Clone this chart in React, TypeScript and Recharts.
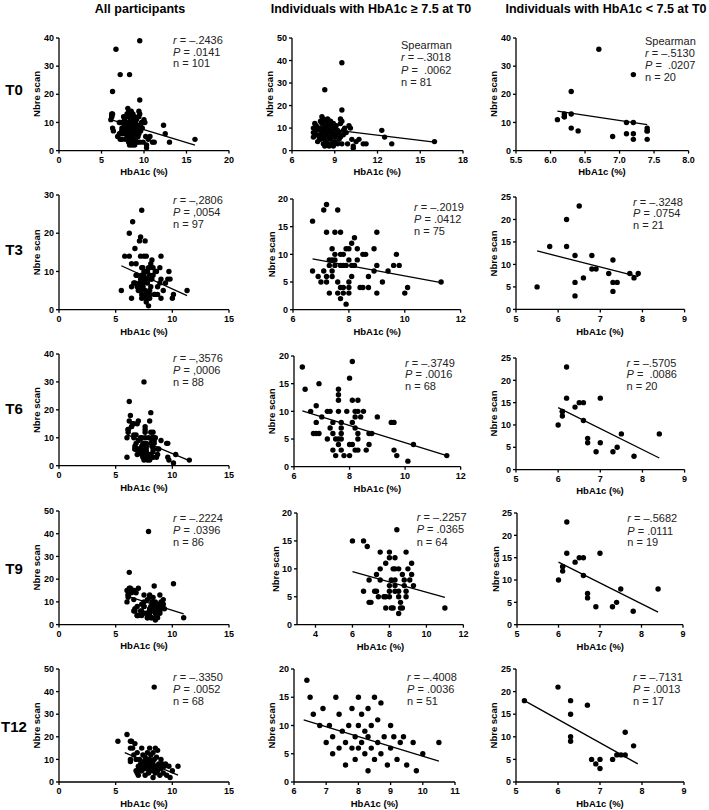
import React from 'react';
import { ScatterChart, Scatter, XAxis, YAxis, ReferenceLine } from 'recharts';

// ---------------- DATA (HbA1c %, Nbre scan) ----------------
const t0Hi = [[7.5,10],[7.5,8],[7.5,6],[7.6,12],[7.6,7],[7.7,11],[7.7,9],[7.8,7],[7.8,4],[7.9,10],[7.9,6],[8.0,13],[8.0,9],[8.0,7],[8.0,5],[8.1,15],[8.1,12],[8.1,8],[8.2,14],[8.2,10],[8.2,6],[8.2,3],[8.3,27],[8.3,13],[8.3,9],[8.3,5],[8.3,2],[8.4,11],[8.4,7],[8.4,4],[8.5,14],[8.5,8],[8.5,3],[8.6,12],[8.6,10],[8.6,6],[8.6,2],[8.7,13],[8.7,9],[8.7,5],[8.8,11],[8.8,7],[8.8,3],[8.9,12],[8.9,8],[8.9,2],[9.0,10],[9.0,6],[9.0,4],[9.1,11],[9.1,7],[9.2,9],[9.2,3],[9.3,8],[9.3,5],[9.4,14],[9.4,12],[9.4,6],[9.5,39],[9.5,18],[9.5,13],[9.5,3],[9.6,9],[9.6,7],[9.7,10],[9.8,8],[9.9,3],[10.0,11],[10.1,10],[10.2,5],[10.3,1],[10.3,2],[10.5,4],[10.7,5],[11.0,3],[11.2,3],[12.3,9],[12.5,6],[13.0,3],[16.0,4]];
const t0Lo = [[6.1,11],[6.2,13],[6.2,12],[6.3,21],[6.3,13],[6.3,8],[6.4,7],[6.7,36],[6.9,5],[7.1,10],[7.1,6],[7.2,27],[7.2,10],[7.2,6],[7.2,4],[7.4,8],[7.4,7],[7.4,4],[6.2,12],[7.4,7]];
const t0Extra: number[][] = [];

const t3Hi = [[6.7,16],[6.7,7],[6.9,6],[7.0,5],[7.1,18],[7.1,7],[7.2,19],[7.2,14],[7.2,6],[7.2,5],[7.3,9],[7.3,8],[7.3,3],[7.4,11],[7.4,9],[7.4,7],[7.4,6],[7.5,10],[7.5,9],[7.5,14],[7.5,8],[7.6,18],[7.6,5],[7.6,3],[7.7,14],[7.7,10],[7.7,8],[7.7,4],[7.7,2],[7.8,10],[7.8,8],[7.8,4],[7.8,3],[7.9,8],[7.9,11],[7.9,1],[8.0,11],[8.0,9],[8.0,5],[8.0,4],[8.0,3],[8.1,12],[8.1,8],[8.1,6],[8.2,13],[8.2,8],[8.3,11],[8.3,9],[8.4,4],[8.5,10],[8.5,4],[8.6,10],[8.7,6],[8.7,4],[8.9,11],[8.9,7],[9.0,14],[9.0,8],[9.0,3],[9.2,5],[9.4,7],[9.6,8],[9.7,10],[9.8,8],[10.0,3],[10.1,4],[11.3,5]];
const t3Lo = [[5.5,5],[5.8,14],[6.2,20],[6.2,14],[6.4,12],[6.4,6],[6.4,3],[6.5,23],[6.6,7],[6.8,12],[6.8,9],[6.9,9],[7.2,8],[7.3,11],[7.3,6],[7.3,4],[7.4,6],[7.7,8],[7.8,7],[7.9,8]];
const t3Extra = [[7.3,26]];

const t6Hi = [[6.3,18],[6.4,14],[6.6,10],[6.7,6],[6.8,11],[6.8,8],[6.8,6],[6.9,6],[6.9,15],[7.0,9],[7.2,5],[7.2,10],[7.3,10],[7.3,7],[7.4,8],[7.4,6],[7.4,3],[7.5,2],[7.5,5],[7.6,14],[7.6,13],[7.6,12],[7.6,10],[7.6,5],[7.7,5],[7.6,4],[7.7,8],[7.7,7],[7.7,6],[7.7,3],[7.8,2],[7.9,10],[8.0,16],[8.0,4],[8.0,2],[8.1,19],[8.1,12],[8.1,8],[8.1,4],[8.2,10],[8.2,9],[8.2,7],[8.2,3],[8.3,3],[8.3,12],[8.3,10],[8.3,6],[8.3,5],[8.4,9],[8.5,10],[8.6,3],[8.7,4],[8.7,6],[8.8,6],[9.0,9],[9.5,8],[9.6,8],[9.6,3],[9.7,2],[10.1,1],[10.3,4],[11.5,2]];
const t6Lo = [[6.0,10],[6.1,13],[6.1,12],[6.2,23],[6.2,16],[6.4,14],[6.5,15],[6.6,15],[6.6,11],[6.7,7],[6.7,6],[6.9,4],[7.0,16],[7.0,6],[7.3,4],[7.4,5],[7.5,8],[7.8,3],[8.4,8],[6.1,13]];
const t6Extra = [[7.5,30],[6.0,3]];

const t9Hi = [[6.0,15],[6.6,15],[6.8,14],[6.6,6],[6.9,8],[6.9,4],[7.0,4],[7.3,6],[7.2,6],[7.3,9],[7.4,5],[7.5,13],[7.5,10],[7.5,8],[7.7,5],[7.8,5],[7.8,11],[7.8,3],[8.0,13],[8.0,12],[8.0,7],[8.0,6],[8.0,5],[8.1,8],[8.1,3],[8.2,3],[8.3,12],[8.2,10],[8.3,10],[8.5,10],[8.3,8],[8.3,7],[8.3,6],[8.5,6],[8.4,17],[8.5,5],[8.6,4],[8.6,3],[8.7,3],[8.5,2],[8.8,7],[8.9,6],[8.9,13],[8.9,5],[9.0,10],[9.1,8],[9.2,11],[9.2,9],[9.3,7],[8.7,9],[8.8,8],[11.0,3]];
const t9Lo = [[6.0,10],[6.1,13],[6.1,12],[6.2,23],[6.2,16],[6.4,14],[6.5,15],[6.6,15],[6.6,11],[6.7,7],[6.7,6],[6.9,4],[7.0,16],[7.3,4],[7.4,5],[7.5,8],[7.8,3],[8.4,8],[6.1,13]];
const t9Extra = [[7.9,41],[10.1,18],[6.3,16]];

const t12Hi = [[6.4,18],[6.5,15],[6.6,12],[6.8,10],[6.9,13],[7.0,7],[7.1,10],[7.2,8],[7.2,5],[7.3,15],[7.4,12],[7.4,6],[7.5,9],[7.6,7],[7.6,3],[7.7,10],[7.8,13],[7.8,6],[7.9,8],[7.9,4],[8.0,15],[8.0,10],[8.0,6],[8.1,12],[8.1,7],[8.2,5],[8.2,9],[8.3,13],[8.3,8],[8.3,2],[8.4,10],[8.4,6],[8.5,15],[8.5,4],[8.6,7],[8.6,11],[8.7,14],[8.7,5],[8.8,8],[8.9,3],[9.0,10],[9.0,6],[9.1,8],[9.2,4],[9.3,7],[9.4,8],[9.5,3],[9.7,7],[9.8,2],[10.0,5],[10.5,7]];
const t12Lo = [[5.2,18],[6.0,21],[6.3,18],[6.3,15],[6.3,10],[6.3,9],[6.7,17],[6.8,5],[6.9,4],[7.0,3],[7.3,5],[7.4,6],[7.5,6],[7.6,6],[7.6,11],[7.8,8],[7.0,5]];
const t12Extra = [[8.4,42]];

// regression line end points
const fitT0All = [[6.1,11.0],[16.0,1.9]];
const fitT0Hi = [[7.5,10.3],[16.0,3.8]];
const fitT0Lo = [[6.1,14.0],[7.4,9.2]];
const fitT3All = [[5.5,11.5],[11.3,3.7]];
const fitT3Hi = [[6.7,9.2],[11.3,4.9]];
const fitT3Lo = [[5.5,13.0],[7.9,7.3]];
const fitT6All = [[6.0,11.1],[11.5,1.8]];
const fitT6Hi = [[6.3,10.1],[11.5,2.0]];
const fitT6Lo = [[6.0,13.9],[8.4,2.6]];
const fitT9All = [[6.0,12.5],[11.0,4.7]];
const fitT9Hi = [[6.0,9.5],[11.0,4.9]];
const fitT9Lo = [[6.0,14.0],[8.4,2.8]];
const fitT12All = [[5.8,13.0],[10.5,3.0]];
const fitT12Hi = [[6.3,11.0],[10.5,3.7]];
const fitT12Lo = [[5.2,18.0],[7.9,4.0]];

// ticks
const xT20 = [0,5,10,15,20];
const xT15 = [0,5,10,15];
const xT18 = [6,9,12,15,18];
const xT8h = [5.5,6.0,6.5,7.0,7.5,8.0];
const xT12 = [6,8,10,12];
const xT12b = [4,6,8,10,12];
const xT11 = [6,7,8,9,10,11];
const xT9 = [5,6,7,8,9];
const yT20 = [0,5,10,15,20];
const yT25 = [0,5,10,15,20,25];
const yT30 = [0,10,20,30];
const yT40 = [0,10,20,30,40];
const yT50 = [0,10,20,30,40,50];

// texts
const colTitles = ['All participants', 'Individuals with HbA1c \u2265 7.5 at T0', 'Individuals with HbA1c < 7.5 at T0'];
const rowLabels = ['T0', 'T3', 'T6', 'T9', 'T12'];
const xLabel = 'HbA1c (%)';
const yLabel = 'Nbre scan';
const stT0All = ['r = \u2013.2436', 'P = .0141', 'n = 101'];
const stT0Hi = ['Spearman', 'r = \u2013.3018', 'P =  .0062', 'n = 81'];
const stT0Lo = ['Spearman', 'r = \u2013.5130', 'P =  .0207', 'n = 20'];
const stT3All = ['r = \u2013,2806', 'P = ,0054', 'n = 97'];
const stT3Hi = ['r = \u2013.2019', 'P = .0412', 'n = 75'];
const stT3Lo = ['r = \u2013.3248', 'P = .0754', 'n = 21'];
const stT6All = ['r = \u2013,3576', 'P = ,0006', 'n = 88'];
const stT6Hi = ['r = \u2013.3749', 'P = .0016', 'n = 68'];
const stT6Lo = ['r = \u2013.5705', 'P =  .0086', 'n = 20'];
const stT9All = ['r = \u2013.2224', 'P = .0396', 'n = 86'];
const stT9Hi = ['r = \u2013.2257', 'P = .0365', 'n = 64'];
const stT9Lo = ['r = \u2013.5682', 'P = .0111', 'n = 19'];
const stT12All = ['r = \u2013.3350', 'P = .0052', 'n = 68'];
const stT12Hi = ['r = \u2013.4008', 'P = .0036', 'n = 51'];
const stT12Lo = ['r = \u2013.7131', 'P = .0013', 'n = 17'];

const toPts = (a: number[][]) => a.map(([x, y]) => ({ x, y }));

// ---------------- LAYOUT ----------------
const FONT = '"Liberation Sans", Arial, sans-serif';

type Cfg = {
  ax: number; top: number; right: number; bottom: number;
  xd: number[]; xt: number[]; yd: number[]; yt: number[];
  data: number[][]; fit: number[][];
  st: string[]; sx: number; sy: number[]; fmt1?: boolean;
};

const panels: Cfg[] = [
  { ax: 59, top: 37.7, right: 229, bottom: 150.3, xd: [0, 20], xt: xT20, yd: [0, 40], yt: yT40, data: [...t0Hi, ...t0Lo, ...t0Extra], fit: fitT0All, st: stT0All, sx: 173, sy: [40, 52, 63.5] },
  { ax: 291.7, top: 37.7, right: 462.7, bottom: 150.3, xd: [6, 18], xt: xT18, yd: [0, 50], yt: yT50, data: t0Hi, fit: fitT0Hi, st: stT0Hi, sx: 401, sy: [45, 57.5, 70, 82] },
  { ax: 515.7, top: 37.7, right: 688.3, bottom: 150.3, xd: [5.5, 8], xt: xT8h, yd: [0, 40], yt: yT40, data: t0Lo, fit: fitT0Lo, st: stT0Lo, sx: 645, sy: [41, 53, 65, 77.5], fmt1: true },
  { ax: 59, top: 195, right: 229, bottom: 309.7, xd: [0, 15], xt: xT15, yd: [0, 30], yt: yT30, data: [...t3Hi, ...t3Lo, ...t3Extra], fit: fitT3All, st: stT3All, sx: 173, sy: [200, 212, 224] },
  { ax: 293.3, top: 199, right: 461, bottom: 309.7, xd: [6, 12], xt: xT12, yd: [0, 20], yt: yT20, data: t3Hi, fit: fitT3Hi, st: stT3Hi, sx: 414, sy: [206.7, 219, 231] },
  { ax: 515.7, top: 197.3, right: 684.3, bottom: 309.7, xd: [5, 9], xt: xT9, yd: [0, 25], yt: yT25, data: t3Lo, fit: fitT3Lo, st: stT3Lo, sx: 633, sy: [201.7, 213.3, 225] },
  { ax: 59, top: 354.3, right: 229, bottom: 466, xd: [0, 15], xt: xT15, yd: [0, 40], yt: yT40, data: [...t6Hi, ...t6Lo, ...t6Extra], fit: fitT6All, st: stT6All, sx: 173, sy: [357.7, 370, 382.3] },
  { ax: 294, top: 356, right: 460.7, bottom: 466.7, xd: [6, 12], xt: xT12, yd: [0, 20], yt: yT20, data: t6Hi, fit: fitT6Hi, st: stT6Hi, sx: 405, sy: [362.7, 374.3, 385.7] },
  { ax: 515.7, top: 357.7, right: 684.3, bottom: 469.3, xd: [5, 9], xt: xT9, yd: [0, 25], yt: yT25, data: t6Lo, fit: fitT6Lo, st: stT6Lo, sx: 626.5, sy: [362.7, 374.3, 385.7] },
  { ax: 59, top: 510.7, right: 229, bottom: 624.3, xd: [0, 15], xt: xT15, yd: [0, 50], yt: yT50, data: [...t9Hi, ...t9Lo, ...t9Extra], fit: fitT9All, st: stT9All, sx: 173, sy: [518.3, 530, 542.3] },
  { ax: 297.3, top: 513.3, right: 463.7, bottom: 625, xd: [3, 12], xt: xT12b, yd: [0, 20], yt: yT20, data: t9Hi, fit: fitT9Hi, st: stT9Hi, sx: 416.7, sy: [516.7, 529.3, 541.7] },
  { ax: 517.3, top: 513.3, right: 683.3, bottom: 625, xd: [5, 9], xt: xT9, yd: [0, 25], yt: yT25, data: t9Lo, fit: fitT9Lo, st: stT9Lo, sx: 627.3, sy: [518.3, 530.7, 542.3] },
  { ax: 59, top: 669, right: 229, bottom: 782, xd: [0, 15], xt: xT15, yd: [0, 50], yt: yT50, data: [...t12Hi, ...t12Lo, ...t12Extra], fit: fitT12All, st: stT12All, sx: 173, sy: [677, 689, 701] },
  { ax: 294, top: 669, right: 455, bottom: 782, xd: [6, 11], xt: xT11, yd: [0, 20], yt: yT20, data: t12Hi, fit: fitT12Hi, st: stT12Hi, sx: 407, sy: [677, 689, 701] },
  { ax: 516, top: 669, right: 684, bottom: 782, xd: [5, 9], xt: xT9, yd: [0, 25], yt: yT25, data: t12Lo, fit: fitT12Lo, st: stT12Lo, sx: 633, sy: [677, 689, 701] },
];

const titleX = [140, 371, 606];
const rowY = [90, 250, 409, 569, 727];

const PAD_L = 40, PAD_T = 6, PAD_R = 12, PAD_B = 26;

const tickStyle = { fontSize: 9, fontWeight: 700, fill: '#000', fontFamily: FONT };

function Dot(props: any) {
  const { cx, cy } = props;
  if (cx == null || cy == null) return null;
  return <circle cx={cx} cy={cy} r={2.7} fill="#000" />;
}

function Panel({ c }: { c: Cfg }) {
  const plotW = c.right - c.ax;
  const plotH = c.bottom - c.top;
  return (
    <div style={{ position: 'absolute', left: c.ax - PAD_L, top: c.top - PAD_T }}>
      <ScatterChart
        width={plotW + PAD_L + PAD_R}
        height={plotH + PAD_T + PAD_B}
        margin={{ top: PAD_T, right: PAD_R, bottom: 0, left: 0 }}
      >
        <XAxis
          type="number" dataKey="x" domain={c.xd} ticks={c.xt} allowDataOverflow
          height={PAD_B} tickSize={3} tickMargin={3} interval={0}
          stroke="#000" strokeWidth={1.3} tick={tickStyle}
          tickFormatter={(v: number) => (c.fmt1 ? v.toFixed(1) : String(v))}
        />
        <YAxis
          type="number" dataKey="y" domain={c.yd} ticks={c.yt} allowDataOverflow
          width={PAD_L} tickSize={3} tickMargin={2} interval={0}
          stroke="#000" strokeWidth={1.3} tick={tickStyle}
        />
        <ReferenceLine
          segment={[{ x: c.fit[0][0], y: c.fit[0][1] }, { x: c.fit[1][0], y: c.fit[1][1] }]}
          stroke="#000" strokeWidth={1.3} ifOverflow="visible"
        />
        <Scatter data={toPts(c.data)} shape={<Dot />} isAnimationActive={false} />
      </ScatterChart>
    </div>
  );
}

function StatLine({ x, y, s }: { x: number; y: number; s: string }) {
  const first = s[0];
  const italic = (first === 'r' || first === 'P') && s[1] === ' ';
  return (
    <text x={x} y={y} dy="0.35em" fontSize={11} fill="#222" fontFamily={FONT} style={{ whiteSpace: 'pre' }}>
      {italic ? (
        <>
          <tspan fontStyle="italic">{first}</tspan>
          <tspan>{s.slice(1)}</tspan>
        </>
      ) : s}
    </text>
  );
}

export default function App() {
  return (
    <div style={{ position: 'absolute', left: 0, top: 0, width: 709, height: 810, background: '#fff', overflow: 'hidden' }}>
      {panels.map((c, i) => <Panel key={i} c={c} />)}
      <svg width={709} height={810} style={{ position: 'absolute', left: 0, top: 0, pointerEvents: 'none' }}>
        {colTitles.map((t, i) => (
          <text key={t} x={titleX[i]} y={9} dy="0.35em" textAnchor="middle" fontSize={12.5} fontWeight={700} fontFamily={FONT} fill="#000">{t}</text>
        ))}
        {rowLabels.map((t, i) => (
          <text key={t} x={14} y={rowY[i]} dy="0.35em" textAnchor="middle" fontSize={15} fontWeight={700} fontFamily={FONT} fill="#000">{t}</text>
        ))}
        {panels.map((c, i) => (
          <g key={i}>
            <text x={(c.ax + c.right) / 2} y={c.bottom + 21.5} dy="0.35em" textAnchor="middle" fontSize={9.5} fontWeight={700} fontFamily={FONT} fill="#000">{xLabel}</text>
            <text x={c.ax - 22} y={(c.top + c.bottom) / 2} dy="0.35em" textAnchor="middle" fontSize={9.5} fontWeight={700} fontFamily={FONT} fill="#000" transform={`rotate(-90 ${c.ax - 22} ${(c.top + c.bottom) / 2})`}>{yLabel}</text>
            {c.st.map((s, j) => <StatLine key={j} x={c.sx} y={c.sy[j]} s={s} />)}
          </g>
        ))}
      </svg>
    </div>
  );
}
